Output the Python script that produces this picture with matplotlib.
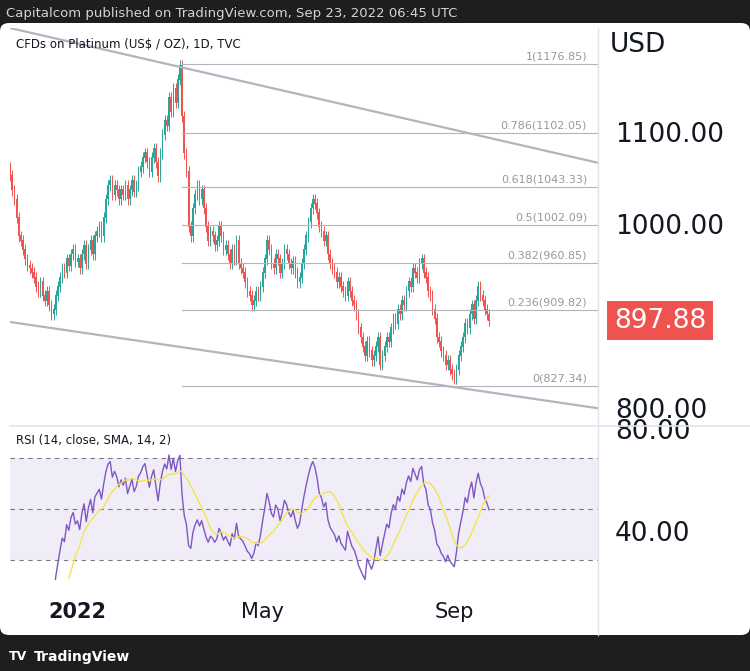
import numpy as np
import matplotlib.pyplot as plt
from matplotlib.patches import FancyBboxPatch
import matplotlib.transforms as mtrans

# daily closes, mid Nov 2021 -> Sep 22 2022
closes = [1056,1040,1030,1010,990,985,975,965,958,955,950,
          945,935,930,940,925,920,930,915,905,910,
          925,935,945,955,950,965,958,970,975,962,
          965,955,970,980,960,975,985,970,990,995,
          1000,990,1010,1030,1045,1050,1035,1045,1040,1030,
          1040,1035,1045,1030,1040,1050,1038,1045,1060,1065,
          1075,1080,1070,1060,1075,1085,1070,1055,1080,1100,
          1115,1110,1140,1125,1150,1135,1160,1175,1120,1080,
          1060,1000,990,1020,1035,1045,1030,1040,1020,1000,
          985,995,990,980,985,1000,990,975,980,970,
          960,975,965,985,960,955,950,940,930,925,
          915,920,930,925,935,950,965,985,975,960,
          955,970,965,950,960,975,970,960,955,962,
          950,940,945,960,975,990,1005,1020,1030,1025,
          1015,1000,995,985,990,970,960,955,950,940,
          945,935,930,925,940,930,920,915,905,890,
          880,870,860,875,865,855,860,870,880,850,
          860,870,880,875,890,900,895,910,905,920,
          915,930,940,935,955,950,945,960,965,950,
          945,930,925,910,900,880,875,865,860,850,
          855,845,840,835,845,860,870,880,895,890,
          905,915,900,920,935,925,920,910,905,897.88]
tick_pos = [31, 116, 204]
tick_labels = ["2022", "May", "Sep"]
fib_levels = [1176.85, 1102.05, 1043.33, 1002.09, 960.85, 909.82, 827.34]
fib_names = ["1", "0.786", "0.618", "0.5", "0.382", "0.236", "0"]
top_line = ([0, 270], [1216, 1069.6])
bot_line = ([0, 270], [896.7, 803])
last_price = 897.88

GREEN, RED = "#26a69a", "#ef5350"
c = np.array(closes, float)
o = np.r_[c[0] + 8, c[:-1]]
x = np.arange(len(c))

fig = plt.figure(figsize=(7.5, 6.71), dpi=100, facecolor="#1e1e1e")
fig.patches.append(FancyBboxPatch((0, 36/671), 1, 612/671, boxstyle="round,pad=0,rounding_size=0.012",
                                  transform=fig.transFigure, fc="white", ec="none", zorder=-5))
fig.text(0.008, 1 - 14/671, "Capitalcom published on TradingView.com, Sep 23, 2022 06:45 UTC",
         color="#d1d4dc", fontsize=9.5, va="center")
fig.text(0.045, 1 - 657/671, "TradingView", color="white", fontsize=10, va="center", weight="bold")
fig.text(0.012, 1 - 657/671, "TV", color="white", fontsize=9, va="center", weight="bold")

ax = fig.add_axes([10/750, 1 - 425/671, 588/750, 397/671])
ax2 = fig.add_axes([10/750, 1 - 580/671, 588/750, 152/671], sharex=ax)

up = c >= o
for i in range(len(c)):
    col = GREEN if up[i] else RED
    ax.vlines(x[i], min(o[i], c[i]) - 6, max(o[i], c[i]) + 6, color=col, lw=0.7)
    ax.bar(x[i], abs(c[i] - o[i]) + 0.8, bottom=min(o[i], c[i]), width=0.7, color=col)

ax.plot(*top_line, color="#b2b5be", lw=1.6)
ax.plot(*bot_line, color="#b2b5be", lw=1.6)
for lv, nm in zip(fib_levels, fib_names):
    ax.plot([79, 270], [lv, lv], color="#b2b5be", lw=0.8)
    ax.text(265, lv + 3, f"{nm}({lv:.2f})", color="#9598a1", fontsize=8, ha="right", va="bottom")
ax.set_xlim(0, 270)
ax.set_ylim(784.8, 1216)
ax.text(0.01, 0.975, "CFDs on Platinum (US$ / OZ), 1D, TVC", transform=ax.transAxes,
        fontsize=8.5, va="top", color="#131722")

# RSI
d = np.diff(c)
g = np.where(d > 0, d, 0.0)
l = np.where(d < 0, -d, 0.0)
rsi = np.full(len(c), np.nan)
ag, al = g[:14].mean(), l[:14].mean()
for i in range(14, len(c)):
    if i > 14:
        ag = (ag * 13 + g[i-1]) / 14
        al = (al * 13 + l[i-1]) / 14
    rsi[i] = 100 - 100 / (1 + ag / al) if al > 0 else 100
sma = np.array([np.nanmean(rsi[i-13:i+1]) if i >= 27 else np.nan for i in range(len(c))])
ax2.axhspan(30, 70, color="#7e57c2", alpha=0.1, lw=0)
for lv in (30, 50, 70):
    ax2.axhline(lv, color="#787b86", lw=0.8, ls=(0, (4, 4)))
ax2.plot(x, rsi, color="#7e57c2", lw=1)
ax2.plot(x, sma, color="#f5e44c", lw=1)
ax2.set_ylim(22, 81.6)
ax2.text(0.01, 0.96, "RSI (14, close, SMA, 14, 2)", transform=ax2.transAxes,
         fontsize=8.5, va="top", color="#131722")

for a in (ax, ax2):
    a.set_yticks([])
    a.patch.set_alpha(0)
    for s in a.spines.values():
        s.set_visible(False)
    a.tick_params(axis="x", length=0)
ax.tick_params(labelbottom=False)
ax2.set_xticks(tick_pos)
ax2.set_xticklabels(tick_labels, fontsize=15, color="#131722")
ax2.get_xticklabels()[0].set_weight("bold")
ax2.tick_params(axis="x", pad=16)

fig.add_artist(plt.Line2D([10/750, 1], [1 - 426/671] * 2, color="#e0e3eb", lw=1.2))
fig.add_artist(plt.Line2D([598/750] * 2, [36/671, 1 - 28/671], color="#e0e3eb", lw=1))

tr = mtrans.blended_transform_factory(fig.transFigure, ax.transData)
fig.text(610/750, 1 - 45/671, "USD", fontsize=19, va="center", color="#131722")
for v in (1100, 1000, 800):
    ax.text(615/750, v, f"{v:.2f}", transform=tr, fontsize=19, va="center", color="#131722")
ax.text(660/750, last_price, f"{last_price:.2f}", transform=tr, fontsize=19, va="center", ha="center",
        color="white", bbox=dict(boxstyle="square,pad=0.25", fc=RED, ec="none"))
tr2 = mtrans.blended_transform_factory(fig.transFigure, ax2.transData)
for v in (80, 40):
    ax2.text(615/750, v, f"{v:.2f}", transform=tr2, fontsize=19, va="center", color="#131722")

fig.savefig("out.png", dpi=100, facecolor=fig.get_facecolor())
